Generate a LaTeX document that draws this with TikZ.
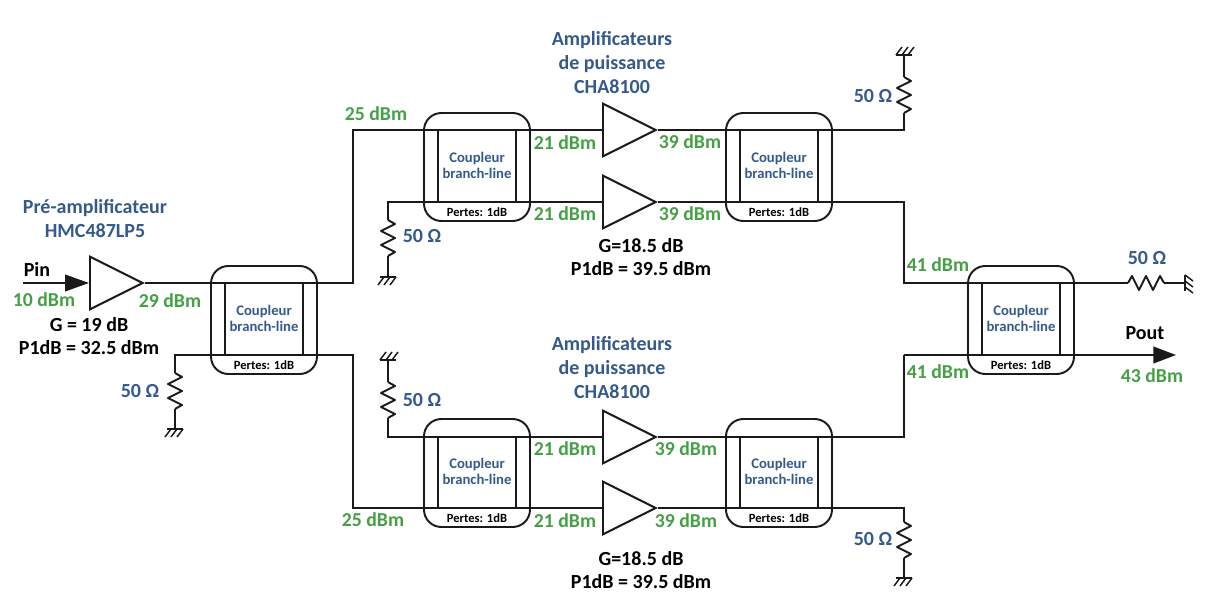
\documentclass[tikz,border=0pt]{standalone}
\usepackage{fontspec}
\setmainfont{Carlito}
\usetikzlibrary{arrows.meta,shapes.geometric}
\definecolor{labelblue}{HTML}{34598C}
\definecolor{powergreen}{HTML}{45A045}
\definecolor{wireink}{HTML}{1A1A1A}
\tikzset{
  wire/.style={wireink, line width=1.45pt},
  amp/.style={draw=wireink, line width=1.45pt, isosceles triangle, isosceles triangle stretches, anchor=lower side, minimum width=39.5pt, minimum height=39.5pt, inner sep=0pt},
  power/.style={powergreen, font=\bfseries\fontsize{14.8}{16}\selectfont},
  title/.style={labelblue, font=\bfseries\fontsize{15}{18}\selectfont, align=center},
  spec/.style={black, font=\bfseries\fontsize{15}{17}\selectfont, align=center},
  ohm/.style={labelblue, font=\bfseries\fontsize{15}{16}\selectfont},
  cpltext/.style={labelblue, font=\bfseries\fontsize{11}{12.5}\selectfont, align=center},
  losstext/.style={black, font=\bfseries\fontsize{9.4}{10}\selectfont},
}
\newcommand{\coupleur}[3]{%
  \node[draw=wireink, line width=1.45pt, rounded corners=13pt, minimum width=79.5pt, minimum height=81pt, inner sep=0pt] (#1) at (#2,{#3+1}) {};
  \coordinate (#1-nw) at ({#2-39},{#3-36});
  \coordinate (#1-ne) at ({#2+39},{#3-36});
  \coordinate (#1-sw) at ({#2-39},{#3+36});
  \coordinate (#1-se) at ({#2+39},{#3+36});
  \draw[wire] (#1-nw) -- (#1-sw);
  \draw[wire] (#1-ne) -- (#1-se);
  \node[cpltext] (#1-txt) at (#2,{#3-0.5}) {Coupleur\\branch-line};
  \node[losstext] (#1-loss) at (#2,{#3+46}) {Pertes: 1dB};
}
\newcommand{\resistance}[4]{%
  \begin{scope}[shift={(#2,#3)}, rotate=#4]
    \coordinate (#1-a) at (0,0);
    \coordinate (#1-b) at (36,0);
    \draw[wire, line join=round] (#1-a) -- ++(4,-7) -- ++(7,14) -- ++(7,-14) -- ++(7,14) -- ++(7,-14) -- (#1-b);
  \end{scope}
}
\newcommand{\masse}[4]{%
  \begin{scope}[shift={(#2,#3)}, rotate=#4]
    \coordinate (#1) at (0,0);
    \draw[wire, line width=1.1pt] (-8,0) -- (8,0);
    \draw[wire, line width=1.1pt] (8,0) -- (2,8);
    \draw[wire, line width=1.1pt] (2,0) -- (-4,8);
    \draw[wire, line width=1.1pt] (-4,0) -- (-10,8);
  \end{scope}
}

\begin{document}
\begin{tikzpicture}[x=0.75pt, y=-0.75pt]
  \useasboundingbox (0,0) rectangle (1206,598);

  % couplers
  \coupleur{cplin}{264}{319}
  \coupleur{cplta}{477}{166}
  \coupleur{cpltb}{779}{166}
  \coupleur{cplba}{477}{472}
  \coupleur{cplbb}{779}{472}
  \coupleur{cplout}{1021}{319}

  % amplifiers
  \node[amp] (preamp) at (89,283) {};
  \node[amp] (ampa) at (602,130) {};
  \node[amp] (ampb) at (602,202) {};
  \node[amp] (ampc) at (602,437) {};
  \node[amp] (ampd) at (602,508) {};

  % loads
  \resistance{ra}{175}{373}{-90}
  \masse{gnda}{175}{429}{0}
  \resistance{rb}{388}{220}{-90}
  \masse{gndb}{388}{277}{0}
  \resistance{rc}{904}{77}{-90}
  \masse{gndc}{904}{55}{180}
  \resistance{rd}{388}{382}{-90}
  \masse{gndd}{388}{360}{180}
  \resistance{re}{904}{522}{-90}
  \masse{gnde}{904}{578}{0}
  \resistance{rf}{1128}{283}{0}
  \masse{gndf}{1185}{283}{90}

  \coordinate (pinstart) at (23,283);
  \coordinate (noda) at (353,283);
  \coordinate (nodb) at (175,355);
  \coordinate (nodc) at (353,355);
  \coordinate (nodd) at (388,202);
  \coordinate (node) at (388,437);
  \coordinate (nodf) at (904,130);
  \coordinate (nodg) at (904,202);
  \coordinate (nodh) at (904,283);
  \coordinate (nodi) at (904,355);
  \coordinate (nodj) at (904,437);
  \coordinate (nodk) at (904,508);
  \coordinate (pout) at (1176,355);

  % connections
  \draw[wire, -{Triangle[length=18pt, width=12.5pt]}] (pinstart) -- (preamp.lower side);
  \draw[wire] (preamp.apex) -- (noda) |- (ampa.lower side);
  \draw[wire] (ra-a) -- (nodb) -- (nodc) |- (ampd.lower side);
  \draw[wire] (ra-b) -- (gnda);
  \draw[wire] (rb-a) -- (nodd) -- (ampb.lower side);
  \draw[wire] (rb-b) -- (gndb);
  \draw[wire] (rd-b) -- (node) -- (ampc.lower side);
  \draw[wire] (rd-a) -- (gndd);
  \draw[wire] (ampa.apex) -- (nodf) -- (rc-b);
  \draw[wire] (rc-a) -- (gndc);
  \draw[wire] (ampb.apex) -- (nodg) -- (nodh) -- (rf-a);
  \draw[wire] (rf-b) -- (gndf);
  \draw[wire] (ampc.apex) -- (nodj) -- (nodi);
  \draw[wire, -{Triangle[length=17pt, width=12.5pt]}] (nodi) -- (pout);
  \draw[wire] (ampd.apex) -- (nodk) -- (re-a);
  \draw[wire] (re-b) -- (gnde);

  % titles
  \node[title] (pretitle) at (95,219) {Pré-amplificateur\\HMC487LP5};
  \node[title] (amptitlea) at (612,63) {Amplificateurs\\de puissance\\CHA8100};
  \node[title] (amptitleb) at (612,368) {Amplificateurs\\de puissance\\CHA8100};

  % specs
  \node[spec] (prespec) at (89,336) {G = 19 dB\\P1dB = 32.5 dBm};
  \node[spec] (specta) at (641,257) {G=18.5 dB\\P1dB = 39.5 dBm};
  \node[spec] (spectb) at (641,570) {G=18.5 dB\\P1dB = 39.5 dBm};
  \node[spec] (pin) at (37,269) {Pin};
  \node[spec] (poutlabel) at (1145,333) {Pout};

  % power levels
  \node[power] (pa) at (44,300) {10 dBm};
  \node[power] (pb) at (170,301) {29 dBm};
  \node[power] (pc) at (376,114) {25 dBm};
  \node[power] (pd) at (373,520) {25 dBm};
  \node[power] (pe) at (565,143) {21 dBm};
  \node[power] (pf) at (565,214) {21 dBm};
  \node[power] (pg) at (565,449) {21 dBm};
  \node[power] (ph) at (565,521) {21 dBm};
  \node[power] (pi) at (690,142) {39 dBm};
  \node[power] (pj) at (690,214) {39 dBm};
  \node[power] (pk) at (686,449) {39 dBm};
  \node[power] (pl) at (686,521) {39 dBm};
  \node[power] (pm) at (938,265) {41 dBm};
  \node[power] (pn) at (938,372) {41 dBm};
  \node[power] (po) at (1152,376) {43 dBm};

  % resistor values
  \node[ohm] (oa) at (140,391) {50 Ω};
  \node[ohm] (ob) at (422,236) {50 Ω};
  \node[ohm] (oc) at (873,96) {50 Ω};
  \node[ohm] (od) at (422,400) {50 Ω};
  \node[ohm] (oe) at (873,539) {50 Ω};
  \node[ohm] (of) at (1147,258) {50 Ω};
\end{tikzpicture}
\end{document}
